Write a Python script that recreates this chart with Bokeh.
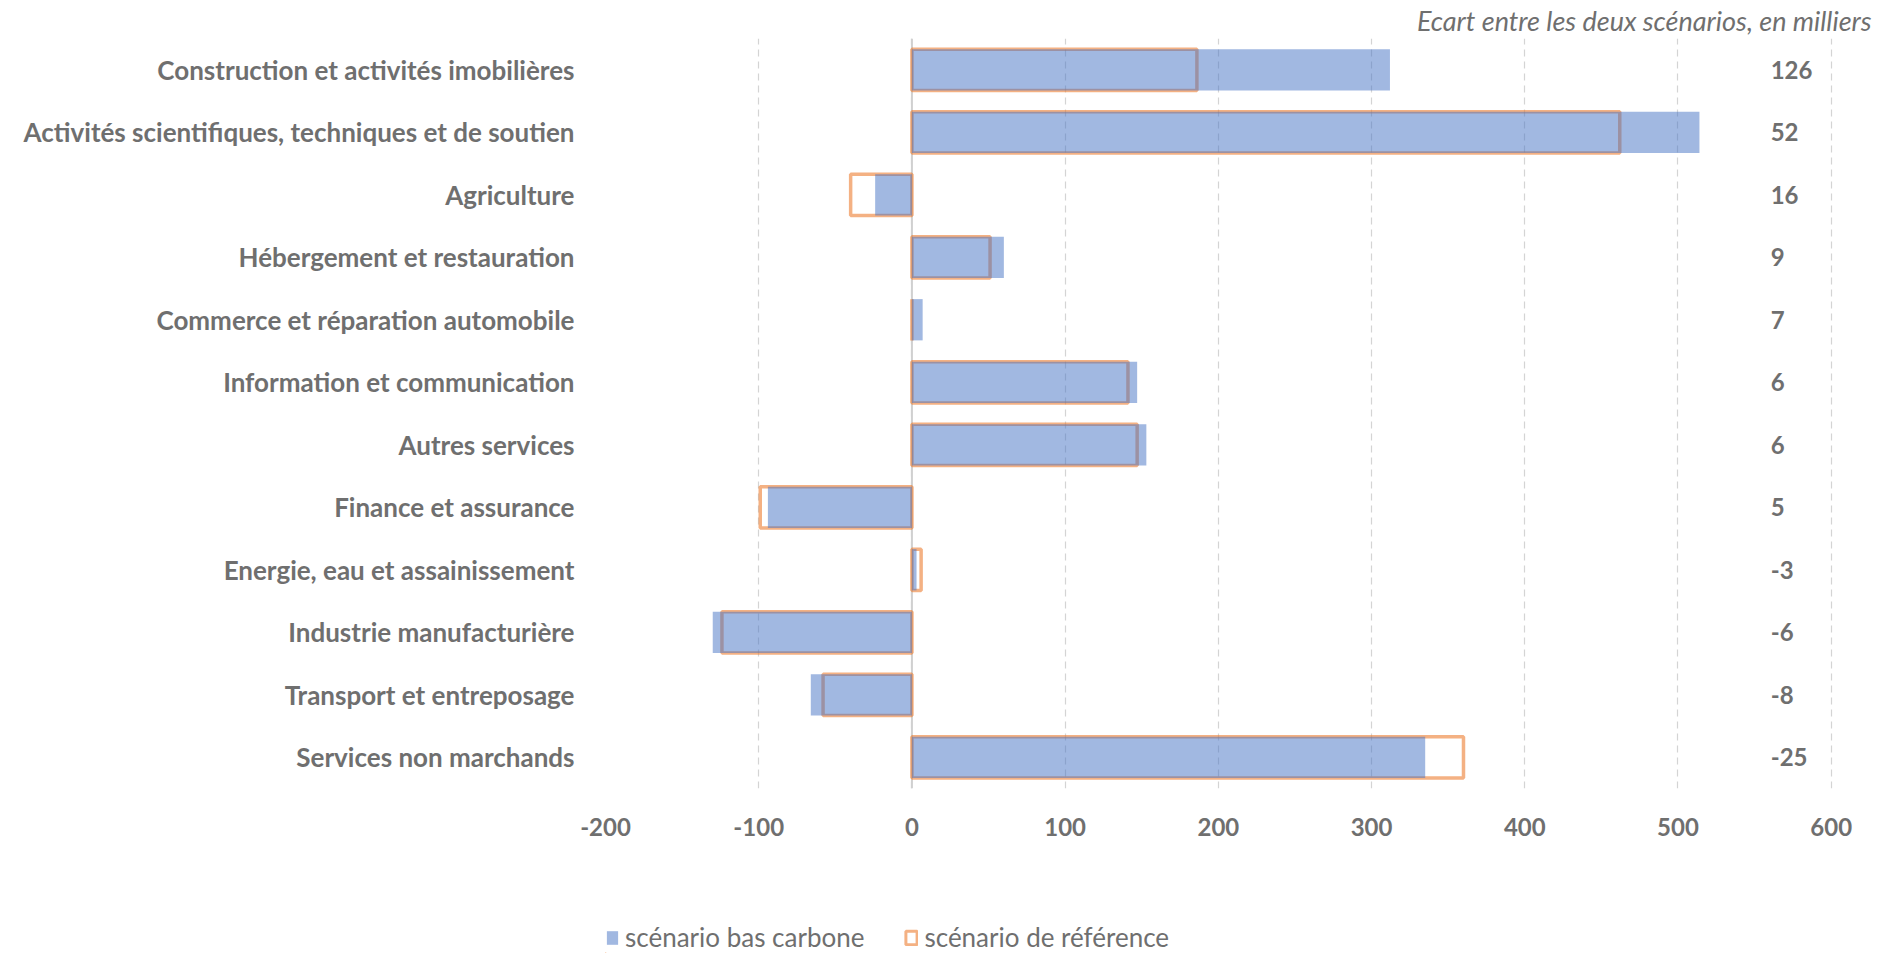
from bokeh.plotting import figure
from bokeh.layouts import column
from bokeh.models import (Range1d, FactorRange, FixedTicker, Span, Legend, LegendItem,
                          ColumnDataSource)
from bokeh.core.properties import value
from bokeh.embed import file_html
from bokeh.resources import INLINE

categories = [
    "Construction et activités imobilières",
    "Activités scientifiques, techniques et de soutien",
    "Agriculture",
    "Hébergement et restauration",
    "Commerce et réparation automobile",
    "Information et communication",
    "Autres services",
    "Finance et assurance",
    "Energie, eau et assainissement",
    "Industrie manufacturière",
    "Transport et entreposage",
    "Services non marchands",
]
bas_carbone = [312, 514, -24, 60, 7, 147, 153, -94, 3, -130, -66, 335]
reference = [186, 462, -40, 51, 0, 141, 147, -99, 6, -124, -58, 360]
ecart = ["126", "52", "16", "9", "7", "6", "6", "5", "-3", "-6", "-8", "-25"]
x_ticks = [-200, -100, 0, 100, 200, 300, 400, 500, 600]
x_tick_labels = ["-200", "-100", "0", "100", "200", "300", "400", "500", "600"]

title_text = "Ecart entre les deux scénarios, en milliers"
legend_labels = ["scénario bas carbone", "scénario de référence"]

FONT = "Lato"
GRAY = "#6f6f6f"
BLUE = "#4472C4"
ORANGE = "#ED7D31"

src = ColumnDataSource(dict(cat=categories, bas=bas_carbone, ref=reference, ecart=ecart))

x_min, x_max = -200, 626.3
p = figure(width=1895, height=903,
           x_range=Range1d(x_min, x_max),
           y_range=FactorRange(factors=list(reversed(categories))),
           output_backend="svg", toolbar_location=None,
           min_border_left=605, min_border_right=24, min_border_top=38, min_border_bottom=115)
p.outline_line_color = None
p.background_fill_color = "white"

# title (above the frame, right aligned)
p.title.text = title_text
p.title.align = "right"
p.title.text_font = FONT
p.title.text_font_style = "italic"
p.title.text_font_size = "27px"
p.title.text_color = GRAY
p.title.standoff = 3

ticker = FixedTicker(ticks=x_ticks)
p.xaxis.ticker = ticker
p.xaxis.major_label_overrides = dict(zip(x_ticks, x_tick_labels))
p.xgrid.ticker = ticker
p.xgrid.grid_line_color = "#d4d4d4"
p.xgrid.grid_line_dash = "7 5"
p.xgrid.grid_line_width = 1.2
p.ygrid.grid_line_color = None

for ax in (p.xaxis[0], p.yaxis[0]):
    ax.axis_line_color = None
    ax.major_tick_line_color = None
    ax.minor_tick_line_color = None
    ax.major_label_text_font = FONT
    ax.major_label_text_font_style = "bold"
    ax.major_label_text_color = GRAY
p.yaxis.major_label_text_font_size = "26px"
p.xaxis.major_label_text_font_size = "24px"
p.yaxis.major_label_standoff = 25
p.xaxis.major_label_standoff = 23

p.add_layout(Span(location=0, dimension="height", line_color="#d0d0d0", line_width=2, level="underlay"))

r_ref = p.hbar(y="cat", right="ref", left=0, height=0.66, source=src,
               fill_color=None, line_color=ORANGE, line_alpha=0.6, line_width=3.5)
r_bas = p.hbar(y="cat", right="bas", left=0, height=0.66, source=src,
               fill_color=BLUE, fill_alpha=0.5, line_color=None)

label_x = 560.5
p.text(x=label_x, y="cat", text="ecart", source=src, text_align="left", text_baseline="middle",
       text_font=value(FONT), text_font_style="bold", text_font_size="24px", text_color=GRAY)

# legend strip below the chart (swatch renderers sit outside the strip's visible range)
lg = figure(width=1895, height=50, x_range=Range1d(0, 1), y_range=Range1d(0, 1),
            output_backend="svg", toolbar_location=None, min_border=0)
lg.outline_line_color = None
lg.axis.visible = False
lg.grid.visible = False
swatch = ColumnDataSource(dict(y=[-10], right=[-10]))
l_bas = lg.hbar(y="y", right="right", height=1, source=swatch,
                fill_color=BLUE, fill_alpha=0.5, line_color=None)
l_ref = lg.hbar(y="y", right="right", height=1, source=swatch,
                fill_color=None, line_color=ORANGE, line_alpha=0.6, line_width=3)
legend = Legend(items=[LegendItem(label=legend_labels[0], renderers=[l_bas]),
                       LegendItem(label=legend_labels[1], renderers=[l_ref])],
                location=(0, 0), orientation="horizontal",
                border_line_color=None, background_fill_alpha=0,
                padding=0, margin=0, spacing=40, label_standoff=6,
                glyph_width=14, glyph_height=17,
                label_text_font=FONT, label_text_font_size="26px", label_text_color=GRAY)
lg.add_layout(legend)

open("out.html", "w").write(file_html(column(p, lg, spacing=0), INLINE))
